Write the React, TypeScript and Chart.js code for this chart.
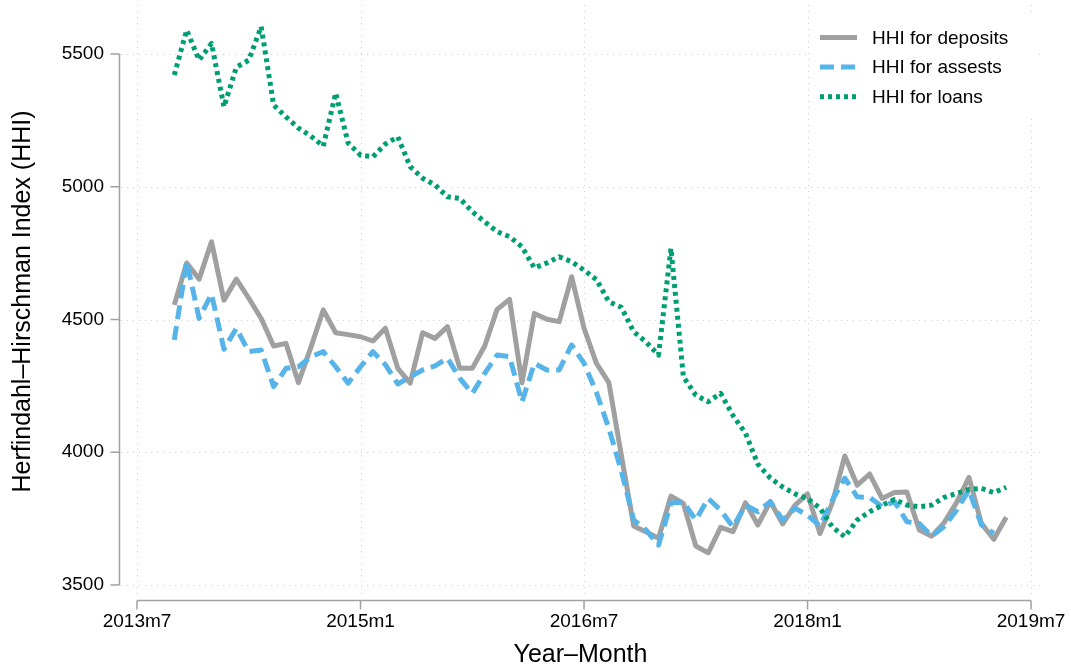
import React, { useEffect, useRef } from 'react';
import { Chart, registerables } from 'chart.js';

Chart.register(...registerables);

// Months are counted from 2013m7 (= 0). The series begin in 2013m10.
const firstMonth = 3;
const tickMonths = [0, 18, 36, 54, 72];
const tickLabels = ['2013m7', '2015m1', '2016m7', '2018m1', '2019m7'];
const yTicks = [3500, 4000, 4500, 5000, 5500];

const seriesLabels = ['HHI for deposits', 'HHI for assests', 'HHI for loans'];

const deposits = [
  4555, 4713, 4652, 4793, 4573, 4652, 4580, 4504, 4400, 4410,
  4262, 4395, 4536, 4450, 4443, 4435, 4419, 4467, 4316, 4260,
  4450, 4429, 4473, 4316, 4316, 4400, 4538, 4576, 4262, 4523,
  4501, 4492, 4661, 4467, 4335, 4262, 3990, 3722, 3700, 3676,
  3835, 3807, 3647, 3621, 3717, 3701, 3810, 3726, 3814, 3730,
  3801, 3843, 3694, 3810, 3986, 3876, 3918, 3826, 3848, 3850,
  3707, 3684, 3735, 3810, 3905, 3732, 3672, 3755,
];

const assets = [
  4423, 4718, 4504, 4596, 4388, 4467, 4379, 4385, 4247, 4316,
  4322, 4360, 4379, 4322, 4260, 4322, 4379, 4330, 4257, 4284,
  4310, 4325, 4354, 4278, 4222, 4297, 4366, 4360, 4190, 4335,
  4310, 4310, 4404, 4335, 4225, 4090, 3930, 3745, 3707, 3650,
  3809, 3812, 3745, 3826, 3782, 3719, 3801, 3776, 3814, 3745,
  3789, 3763, 3722, 3820, 3902, 3832, 3830, 3795, 3814, 3738,
  3732, 3684, 3720, 3782, 3858, 3726, 3695, null,
];

const loans = [
  5421, 5590, 5477, 5540, 5301, 5450, 5477, 5603, 5308, 5263,
  5221, 5191, 5153, 5353, 5165, 5119, 5113, 5161, 5188, 5076,
  5032, 5007, 4962, 4956, 4906, 4868, 4831, 4812, 4774, 4694,
  4713, 4736, 4718, 4686, 4650, 4567, 4546, 4454, 4415, 4366,
  4768, 4284, 4215, 4190, 4222, 4138, 4072, 3955, 3903, 3869,
  3843, 3825, 3790, 3718, 3682, 3745, 3776, 3800, 3822, 3801,
  3795, 3801, 3830, 3845, 3860, 3864, 3848, 3868,
];

const FONT = '"Liberation Sans", Arial, Helvetica, sans-serif';
const GRAY = '#a0a0a0';
const BLUE = '#56b4e9';
const GREEN = '#009e73';

const toPoints = (values: (number | null)[]) =>
  values.map((v, i) => ({ x: firstMonth + i, y: v }));

const styles = [
  { color: GRAY, dash: [] as number[] },
  { color: BLUE, dash: [14, 7] },
  { color: GREEN, dash: [4, 4] },
];

function strokeLine(ctx: CanvasRenderingContext2D, x1: number, y1: number, x2: number, y2: number) {
  ctx.beginPath();
  ctx.moveTo(x1, y1);
  ctx.lineTo(x2, y2);
  ctx.stroke();
}

// Fixed scale size with no extra label padding, so the plot area stays put.
const fixSize = (size: { width?: number; height?: number }) => (s: any) => {
  if (size.width !== undefined) s.width = size.width;
  if (size.height !== undefined) s.height = size.height;
  s.paddingTop = 0;
  s.paddingBottom = 0;
  s.paddingLeft = 0;
  s.paddingRight = 0;
};

// Dotted grid, detached axis lines with outward ticks, and a boxed legend.
const frame = {
  id: 'frame',
  beforeDatasetsDraw(chart: any) {
    const { ctx, chartArea: a, scales } = chart;
    const x = scales.x;
    const y = scales.y;
    ctx.save();
    ctx.strokeStyle = '#cfcfcf';
    ctx.lineWidth = 1;
    ctx.setLineDash([1, 5]);
    yTicks.forEach((v) => {
      const py = Math.round(y.getPixelForValue(v)) + 0.5;
      strokeLine(ctx, a.left, py, a.right, py);
    });
    tickMonths.forEach((m) => {
      const px = Math.round(x.getPixelForValue(m)) + 0.5;
      strokeLine(ctx, px, a.top, px, a.bottom);
    });
    ctx.setLineDash([]);
    ctx.strokeStyle = GRAY;
    ctx.lineWidth = 1.5;
    const ax = a.left - 1.5;
    strokeLine(ctx, ax, y.getPixelForValue(yTicks[0]), ax, y.getPixelForValue(yTicks[yTicks.length - 1]));
    yTicks.forEach((v) => {
      const py = y.getPixelForValue(v);
      strokeLine(ctx, ax - 9, py, ax, py);
    });
    const ay = a.bottom + 2.5;
    strokeLine(ctx, x.getPixelForValue(tickMonths[0]), ay, x.getPixelForValue(tickMonths[tickMonths.length - 1]), ay);
    tickMonths.forEach((m) => {
      const px = x.getPixelForValue(m);
      strokeLine(ctx, px, ay, px, ay + 9);
    });
    ctx.restore();
  },
  afterDatasetsDraw(chart: any) {
    const { ctx } = chart;
    ctx.save();
    ctx.fillStyle = '#ffffff';
    ctx.fillRect(810, 14, 226, 100);
    chart.data.datasets.forEach((ds: any, i: number) => {
      const cy = 37.5 + i * 29.6;
      ctx.strokeStyle = styles[i].color;
      ctx.lineWidth = 5;
      ctx.lineCap = 'butt';
      ctx.setLineDash(styles[i].dash);
      strokeLine(ctx, 820, cy, 857, cy);
      ctx.setLineDash([]);
      ctx.fillStyle = '#000000';
      ctx.font = `19px ${FONT}`;
      ctx.textAlign = 'left';
      ctx.textBaseline = 'middle';
      ctx.fillText(ds.label, 872, cy + 1);
    });
    ctx.restore();
  },
};

export default function App() {
  const canvasRef = useRef<HTMLCanvasElement | null>(null);

  useEffect(() => {
    const canvas = canvasRef.current;
    if (!canvas) return;
    const series = [deposits, assets, loans];
    const chart = new Chart(canvas, {
      type: 'line',
      data: {
        datasets: series.map((values, i) => ({
          label: seriesLabels[i],
          data: toPoints(values),
          borderColor: styles[i].color,
          backgroundColor: styles[i].color,
          borderWidth: 5,
          borderDash: styles[i].dash,
          borderJoinStyle: 'round' as const,
          borderCapStyle: 'butt' as const,
          pointRadius: 0,
          tension: 0,
          fill: false,
          order: 3 - i,
        })),
      },
      options: {
        animation: false,
        responsive: false,
        devicePixelRatio: 1,
        layout: { padding: { top: 5, right: 31, left: 0, bottom: 0 } },
        plugins: {
          legend: { display: false },
          tooltip: { enabled: false },
        },
        scales: {
          x: {
            type: 'linear',
            min: -1.29,
            max: 72.72,
            afterBuildTicks: (s: any) => {
              s.ticks = tickMonths.map((v) => ({ value: v }));
            },
            afterFit: fixSize({ height: 70 }),
            ticks: {
              autoSkip: false,
              maxRotation: 0,
              padding: 12,
              color: '#000',
              font: { size: 19, family: FONT },
              callback: (v: any) => tickLabels[tickMonths.indexOf(Number(v))] ?? '',
            },
            grid: { display: false, drawTicks: false },
            border: { display: false },
            title: {
              display: true,
              text: 'Year–Month',
              color: '#000',
              font: { size: 25, family: FONT, lineHeight: 1.04 },
              padding: 0,
            },
          },
          y: {
            type: 'linear',
            min: 3451,
            max: 5684.6,
            afterBuildTicks: (s: any) => {
              s.ticks = yTicks.map((v) => ({ value: v }));
            },
            afterFit: fixSize({ width: 121 }),
            ticks: {
              padding: 17,
              color: '#000',
              font: { size: 19, family: FONT },
              callback: (v: any) => String(v),
            },
            grid: { display: false, drawTicks: false },
            border: { display: false },
            title: {
              display: true,
              text: 'Herfindahl–Hirschman Index (HHI)',
              color: '#000',
              font: { size: 25, family: FONT, lineHeight: 1.04 },
              padding: { top: 10, bottom: 0 },
            },
          },
        },
      },
      plugins: [frame],
    });
    return () => chart.destroy();
  }, []);

  return (
    <div style={{ position: 'absolute', left: 0, top: 0, width: 1071, height: 668, background: '#fff' }}>
      <canvas ref={canvasRef} width={1071} height={668} style={{ display: 'block' }} />
    </div>
  );
}
